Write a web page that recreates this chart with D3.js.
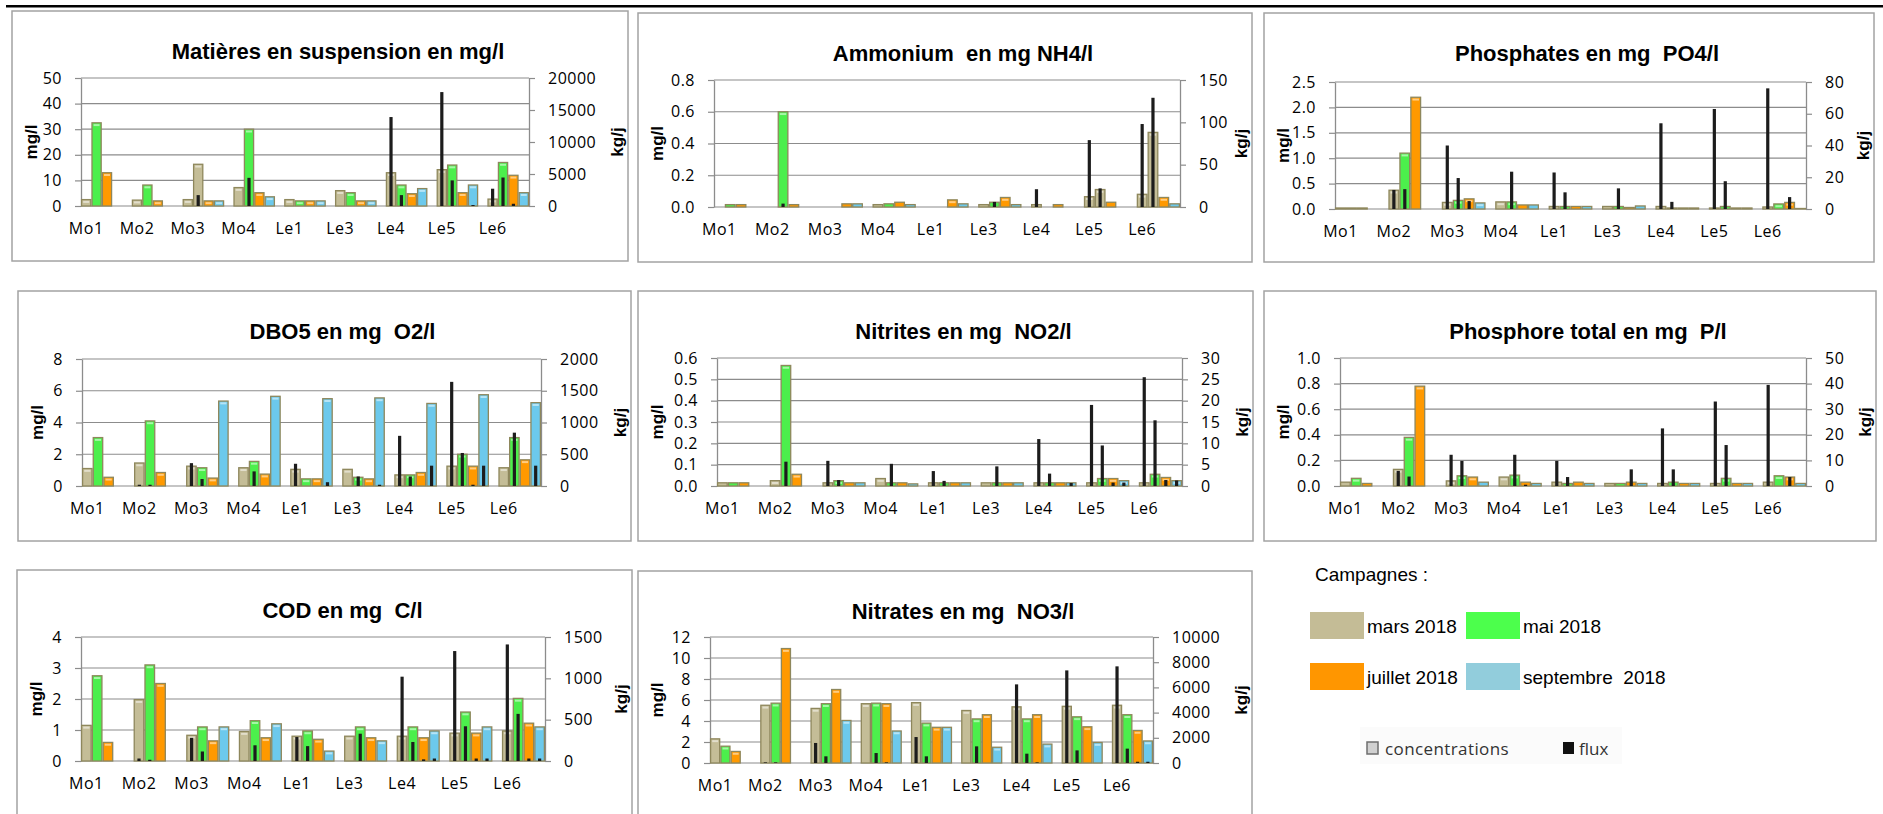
<!DOCTYPE html>
<html>
<head>
<meta charset="utf-8">
<script src="https://cdn.jsdelivr.net/npm/d3@7"></script>
<style>
  body { margin: 0; background: #fff; }
  svg { display: block; font-family: "Liberation Sans", Arial, sans-serif; }
  .title { font-size: 22px; font-weight: bold; fill: #000; white-space: pre; }
  .axis-title { font-size: 17px; font-weight: bold; fill: #000; }
  .tick-label { font-family: "Open Sans", sans-serif; font-size: 16px; letter-spacing: 0.5px; fill: #000; }
  .legend-label { font-size: 19px; fill: #000; white-space: pre; }
</style>
</head>
<body>
<div class="chart"></div>
<script>
const stations = ["Mo1", "Mo2", "Mo3", "Mo4", "Le1", "Le3", "Le4", "Le5", "Le6"];
const campaigns = ["mars 2018", "mai 2018", "juillet 2018", "septembre  2018"];

// concentrations (mg/l) : one row per station -> [mars, mai, juillet, septembre]
const mesConc = [[2.5, 32.5, 13, null], [2.3, 8.2, 2, null], [2.5, 16.3, 2, 2], [7.2, 30, 5.2, 3.6], [2.5, 2, 2, 2],
  [6, 5.2, 2, 2], [13, 8.2, 4.8, 6.8], [14.2, 16, 5.2, 8.2], [2.7, 17, 12, 5.2]];
const mesFlux = [[0, 0, 0, null], [0, 0, 0, null], [0, 1700, 0, 0], [0, 4400, 0, 0], [0, 0, 0, 0],
  [0, 0, 0, 0], [13900, 1700, 0, 0], [17800, 4000, 0, 150], [2700, 4450, 350, 0]];

const nh4Conc = [[0, 0.015, 0.015, null], [0, 0.6, 0.015, null], [0, 0, 0.02, 0.02], [0.015, 0.02, 0.03, 0.015],
  [0, 0, 0.045, 0.02], [0.015, 0.03, 0.06, 0.015], [0.015, 0, 0.015, 0], [0.065, 0.11, 0.03, 0], [0.08, 0.47, 0.06, 0.02]];
const nh4Flux = [[0, 0, 0, null], [0, 4, 0, null], [0, 0, 0, 0], [0, 0, 0, 0], [0, 0, 0, 0],
  [0, 6, 0, 0], [21, 0, 0, 0], [79, 22, 0, 0], [98, 129, 0, 0]];

const po4Conc = [[0.02, 0.02, 0.02, null], [0.37, 1.1, 2.2, null], [0.13, 0.17, 0.2, 0.12], [0.14, 0.14, 0.08, 0.08],
  [0.05, 0.05, 0.05, 0.05], [0.05, 0.05, 0.03, 0.06], [0.05, 0.02, 0.02, 0.02], [0.02, 0.05, 0.02, 0.02], [0.04, 0.1, 0.13, 0.01]];
const po4Flux = [[0, 0, 0, null], [12, 12.5, 0, null], [40, 19.5, 5, 0], [0, 23.5, 0, 0], [23, 10.5, 0, 0],
  [0, 13, 0, 0], [54, 4.5, 0, 0], [63, 17.5, 0, 0], [76, 0, 7.5, 0]];

const dboConc = [[1.1, 3.05, 0.55, null], [1.45, 4.1, 0.85, null], [1.25, 1.15, 0.5, 5.35], [1.15, 1.55, 0.75, 5.65],
  [1.05, 0.45, 0.45, 5.5], [1.05, 0.55, 0.45, 5.55], [0.7, 0.7, 0.85, 5.2], [1.25, 2.0, 1.25, 5.75], [1.15, 3.05, 1.65, 5.25]];
const dboFlux = [[0, 0, 0, null], [20, 20, 0, null], [360, 110, 0, 0], [0, 230, 0, 0], [350, 0, 0, 60],
  [0, 150, 0, 20], [790, 150, 0, 320], [1640, 520, 20, 320], [0, 840, 0, 320]];

const no2Conc = [[0.015, 0.015, 0.015, null], [0.025, 0.565, 0.055, null], [0.015, 0.025, 0.015, 0.015], [0.035, 0.015, 0.015, 0.01],
  [0.015, 0.015, 0.015, 0.015], [0.015, 0.015, 0.015, 0.015], [0.015, 0.015, 0.015, 0.015], [0.015, 0.035, 0.035, 0.025], [0.015, 0.055, 0.04, 0.025]];
const no2Flux = [[0, 0, 0, null], [0, 5.7, 0, null], [5.9, 1.4, 0, 0], [0, 5.2, 0, 0], [3.5, 1.2, 0, 0],
  [0, 4.6, 0, 0], [11, 2.9, 0, 0.7], [19, 9.5, 0.8, 0.8], [25.5, 15.4, 1.4, 1.3]];

const ptotConc = [[0.03, 0.06, 0.02, null], [0.13, 0.38, 0.78, null], [0.04, 0.08, 0.07, 0.03], [0.07, 0.085, 0.03, 0.02],
  [0.03, 0.02, 0.03, 0.02], [0.02, 0.02, 0.03, 0.02], [0.02, 0.03, 0.02, 0.02], [0.02, 0.06, 0.02, 0.02], [0.03, 0.08, 0.07, 0.02]];
const ptotFlux = [[0, 0, 0, null], [5.9, 3.7, 0, null], [12.2, 9.8, 0, 0], [0, 12.2, 0.5, 0], [9.8, 3.5, 0, 0],
  [0, 0, 6.5, 0], [22.5, 6.5, 0, 0], [33, 16, 0, 0], [39.5, 0, 3.5, 0]];

const codConc = [[1.15, 2.75, 0.6, null], [1.98, 3.1, 2.5, null], [0.83, 1.1, 0.65, 1.1], [0.95, 1.3, 0.75, 1.2],
  [0.8, 0.97, 0.7, 0.32], [0.8, 1.1, 0.75, 0.65], [0.8, 1.1, 0.75, 0.97], [0.9, 1.58, 0.9, 1.1], [0.97, 2.02, 1.22, 1.1]];
const codFlux = [[0, 0, 0, null], [30, 15, 0, null], [280, 115, 0, 0], [0, 190, 0, 0], [290, 180, 0, 0],
  [0, 330, 0, 0], [1020, 230, 20, 30], [1330, 420, 30, 30], [1410, 570, 30, 30]];

const no3Conc = [[2.3, 1.6, 1.1, null], [5.5, 5.7, 10.9, null], [5.2, 5.65, 7.0, 4.05], [5.65, 5.7, 5.65, 3.05],
  [5.75, 3.8, 3.4, 3.4], [5.0, 4.2, 4.6, 1.5], [5.35, 4.2, 4.6, 1.8], [5.4, 4.4, 3.45, 1.95], [5.5, 4.6, 3.1, 2.1]];
const no3Flux = [[0, 0, 0, null], [50, 50, 0, null], [1590, 530, 0, 0], [0, 790, 50, 0], [2060, 530, 0, 0],
  [0, 1320, 0, 0], [6240, 740, 50, 0], [7350, 1000, 0, 0], [7670, 1140, 100, 100]];

// tick values, left (mg/l) and right (kg/j)
const mesTicks = [0, 10, 20, 30, 40, 50], mesFluxTicks = [0, 5000, 10000, 15000, 20000];
const nh4Ticks = [0, 0.2, 0.4, 0.6, 0.8], nh4FluxTicks = [0, 50, 100, 150];
const po4Ticks = [0, 0.5, 1.0, 1.5, 2.0, 2.5], po4FluxTicks = [0, 20, 40, 60, 80];
const dboTicks = [0, 2, 4, 6, 8], dboFluxTicks = [0, 500, 1000, 1500, 2000];
const no2Ticks = [0, 0.1, 0.2, 0.3, 0.4, 0.5, 0.6], no2FluxTicks = [0, 5, 10, 15, 20, 25, 30];
const ptotTicks = [0, 0.2, 0.4, 0.6, 0.8, 1.0], ptotFluxTicks = [0, 10, 20, 30, 40, 50];
const codTicks = [0, 1, 2, 3, 4], codFluxTicks = [0, 500, 1000, 1500];
const no3Ticks = [0, 2, 4, 6, 8, 10, 12], no3FluxTicks = [0, 2000, 4000, 6000, 8000, 10000];

// points drawn in the mars colour although they belong to another campaign
const tanPoints = [["mes", 2, 1], ["nh4", 7, 1], ["nh4", 8, 1]];

const barColors = ["#c4bd97", "#4cef4c", "#ff9900", "#6cc9ec"];
const legendColors = ["#c4bc96", "#4cff4c", "#ff9600", "#92cddc"];

// box: x, y, w, h   plot: left, right, top, bottom
const panels = [
  { key: "mes", title: "Matières en suspension en mg/l", conc: mesConc, flux: mesFlux, ticks: mesTicks, fluxTicks: mesFluxTicks, fmt: "d",
    box: [12, 11, 616, 250], plot: [81, 529, 78, 206] },
  { key: "nh4", title: "Ammonium  en mg NH4/l", conc: nh4Conc, flux: nh4Flux, ticks: nh4Ticks, fluxTicks: nh4FluxTicks, fmt: ".1f",
    box: [638, 13, 614, 249], plot: [714, 1180, 80, 207] },
  { key: "po4", title: "Phosphates en mg  PO4/l", conc: po4Conc, flux: po4Flux, ticks: po4Ticks, fluxTicks: po4FluxTicks, fmt: ".1f",
    box: [1264, 13, 610, 249], plot: [1335, 1806, 82, 209] },
  { key: "dbo", title: "DBO5 en mg  O2/l", conc: dboConc, flux: dboFlux, ticks: dboTicks, fluxTicks: dboFluxTicks, fmt: "d",
    box: [18, 291, 613, 250], plot: [82, 541, 359, 486] },
  { key: "no2", title: "Nitrites en mg  NO2/l", conc: no2Conc, flux: no2Flux, ticks: no2Ticks, fluxTicks: no2FluxTicks, fmt: ".1f",
    box: [638, 291, 615, 250], plot: [717, 1182, 358, 486] },
  { key: "ptot", title: "Phosphore total en mg  P/l", conc: ptotConc, flux: ptotFlux, ticks: ptotTicks, fluxTicks: ptotFluxTicks, fmt: ".1f",
    box: [1264, 291, 612, 250], plot: [1340, 1806, 358, 486] },
  { key: "cod", title: "COD en mg  C/l", conc: codConc, flux: codFlux, ticks: codTicks, fluxTicks: codFluxTicks, fmt: "d",
    box: [17, 570, 615, 260], plot: [81, 545, 637, 761] },
  { key: "no3", title: "Nitrates en mg  NO3/l", conc: no3Conc, flux: no3Flux, ticks: no3Ticks, fluxTicks: no3FluxTicks, fmt: "d",
    box: [638, 571, 614, 260], plot: [710, 1153, 637, 763] }
];

const svg = d3.select(".chart").append("svg").attr("width", 1883).attr("height", 814);

// thick rule at the top of the page
svg.append("rect").attr("x", 6).attr("y", 5).attr("width", 1877).attr("height", 2.5).attr("fill", "#000");

const gridColor = "#8c8c8c";

panels.forEach((p) => {
  const [bx, by, bw, bh] = p.box;
  const [l, r, t, b] = p.plot;
  const g = svg.append("g").attr("class", "panel-" + p.key);

  g.append("rect")
    .attr("x", bx).attr("y", by).attr("width", bw).attr("height", bh)
    .attr("fill", "#fff").attr("stroke", "#a3a3a3").attr("stroke-width", 1.5);

  g.append("text").attr("class", "title")
    .attr("x", bx + bw / 2 + 18).attr("y", by + 48)
    .attr("text-anchor", "middle").text(p.title);

  const yScale = d3.scaleLinear().domain(d3.extent(p.ticks)).range([b, t]);
  const yFlux = d3.scaleLinear().domain(d3.extent(p.fluxTicks)).range([b, t]);

  // bar width and the left edge of each station group
  const w = (r - l) * 0.0232;
  const xScale = d3.scalePoint().domain(stations).range([l, r - 4 * w]);

  // gridlines
  g.append("g").selectAll("line").data(p.ticks).enter().append("line")
    .attr("x1", l).attr("x2", r)
    .attr("y1", (d) => yScale(d)).attr("y2", (d) => yScale(d))
    .attr("stroke", gridColor).attr("stroke-width", 1.2);

  const leftAxis = g.append("g").attr("transform", `translate(${l},0)`)
    .call(d3.axisLeft(yScale).tickValues(p.ticks).tickFormat(d3.format(p.fmt)).tickSize(6).tickPadding(13).tickSizeOuter(0));
  const rightAxis = g.append("g").attr("transform", `translate(${r},0)`)
    .call(d3.axisRight(yFlux).tickValues(p.fluxTicks).tickFormat(d3.format("d")).tickSize(6).tickPadding(13).tickSizeOuter(0));
  [leftAxis, rightAxis].forEach((ax) => {
    ax.attr("font-size", null).attr("font-family", null);
    ax.select(".domain").attr("stroke", gridColor).attr("stroke-width", 1.3);
    ax.selectAll(".tick line").attr("stroke", gridColor).attr("stroke-width", 1.2);
    ax.selectAll(".tick text").attr("class", "tick-label").attr("fill", null);
  });

  g.append("text").attr("class", "axis-title")
    .attr("transform", `translate(${bx + 19},${(t + b) / 2}) rotate(-90)`)
    .attr("text-anchor", "middle").attr("dy", "0.35em").text("mg/l");
  g.append("text").attr("class", "axis-title")
    .attr("transform", `translate(${bx + bw - 11},${(t + b) / 2}) rotate(-90)`)
    .attr("text-anchor", "middle").attr("dy", "0.35em").text("kg/j");

  // station labels, centred under the first campaign bar
  g.append("g").selectAll("text").data(stations).enter().append("text")
    .attr("class", "tick-label")
    .attr("x", (d) => xScale(d) + w / 2).attr("y", b + 28)
    .attr("text-anchor", "middle").text((d) => d);

  const concCells = [];
  const fluxCells = [];
  stations.forEach((s, i) => {
    p.conc[i].forEach((v, j) => { if (v !== null) concCells.push({ s, i, j, v }); });
    p.flux[i].forEach((v, j) => { if (v !== null && v > 0) fluxCells.push({ s, i, j, v }); });
  });
  const isTan = (d) => tanPoints.some((tp) => tp[0] === p.key && tp[1] === d.i && tp[2] === d.j);

  g.append("g").selectAll("rect").data(concCells).enter().append("rect")
    .attr("x", (d) => xScale(d.s) + d.j * w + 0.6)
    .attr("width", w - 1.2)
    .attr("y", (d) => yScale(d.v))
    .attr("height", (d) => yScale(0) - yScale(d.v))
    .attr("fill", (d) => (isTan(d) ? barColors[0] : barColors[d.j]))
    .attr("stroke", "#8e875c").attr("stroke-width", 1.3);

  // light bevel at the top of each bar
  g.append("g").selectAll("rect").data(concCells.filter((d) => yScale(0) - yScale(d.v) > 5)).enter().append("rect")
    .attr("x", (d) => xScale(d.s) + d.j * w + 2.2)
    .attr("width", w - 4.4)
    .attr("y", (d) => yScale(d.v) + 1.3)
    .attr("height", 2)
    .attr("fill", "#fff").attr("opacity", 0.5);

  g.append("g").selectAll("rect").data(fluxCells).enter().append("rect")
    .attr("x", (d) => xScale(d.s) + d.j * w + w / 2 - 1.6)
    .attr("width", 3.2)
    .attr("y", (d) => yFlux(d.v))
    .attr("height", (d) => yFlux(0) - yFlux(d.v))
    .attr("fill", "#1c1c1c");
});

// legend
const legend = svg.append("g");
legend.append("text").attr("class", "legend-label").attr("x", 1315).attr("y", 581).text("Campagnes :");
const legendPos = [[1310, 612], [1466, 612], [1310, 663], [1466, 663]];
legend.selectAll(".sw").data(campaigns).enter().append("rect")
  .attr("x", (d, i) => legendPos[i][0]).attr("y", (d, i) => legendPos[i][1])
  .attr("width", 54).attr("height", 27)
  .attr("fill", (d, i) => legendColors[i]);
legend.selectAll(".lb").data(campaigns).enter().append("text")
  .attr("class", "legend-label")
  .attr("x", (d, i) => legendPos[i][0] + 57).attr("y", (d, i) => legendPos[i][1] + 21)
  .text((d) => d);

legend.append("rect").attr("x", 1360).attr("y", 727).attr("width", 262).attr("height", 37).attr("fill", "#fbfbfb");
legend.append("rect").attr("x", 1367).attr("y", 742).attr("width", 11).attr("height", 12)
  .attr("fill", "#d0d0d0").attr("stroke", "#6e6e6e").attr("stroke-width", 1.5);
legend.append("text").attr("x", 1385).attr("y", 755)
  .attr("font-family", "'Open Sans', sans-serif").attr("font-size", 17).attr("letter-spacing", "0.4px")
  .attr("fill", "#333").text("concentrations");
legend.append("rect").attr("x", 1563).attr("y", 742).attr("width", 11).attr("height", 12).attr("fill", "#111");
legend.append("text").attr("x", 1579).attr("y", 755)
  .attr("font-family", "'Open Sans', sans-serif").attr("font-size", 17)
  .attr("fill", "#333").text("flux");
</script>
</body>
</html>
